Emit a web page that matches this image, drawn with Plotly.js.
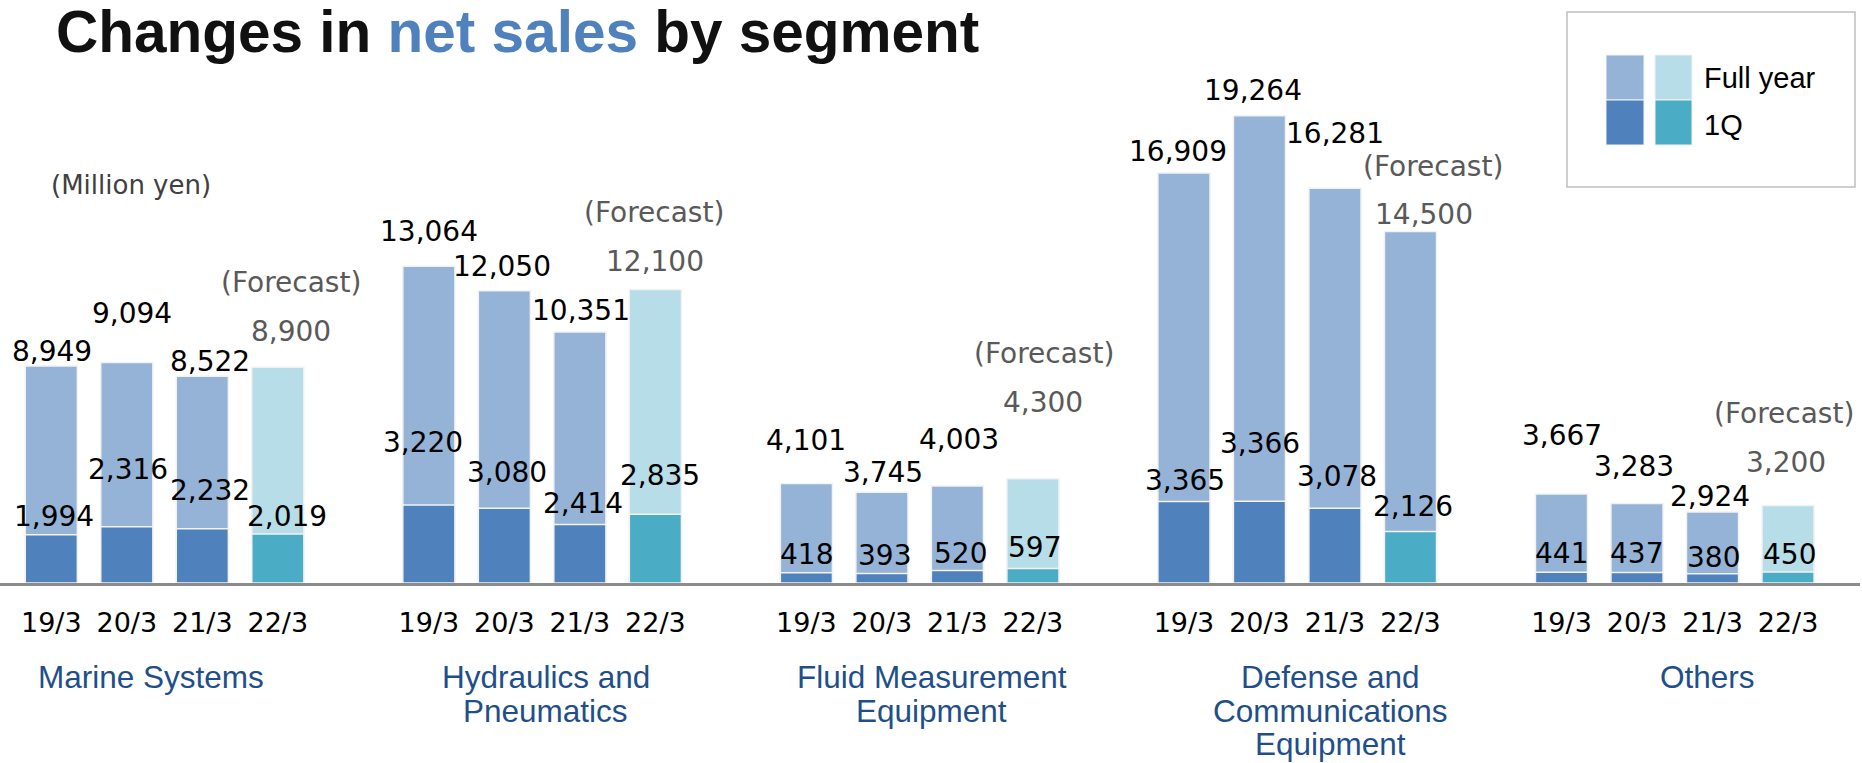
<!DOCTYPE html>
<html>
<head>
<meta charset="utf-8">
<script src="https://cdn.plot.ly/plotly-3.0.1.min.js"></script>
<style>
html,body{margin:0;padding:0;background:#ffffff;}
#chart{width:1862px;height:763px;}
</style>
</head>
<body>
<div id="chart"></div>
<script>
// ---------------- DATA ----------------
const segments = ['Marine Systems', 'Hydraulics and<br>Pneumatics', 'Fluid Measurement<br>Equipment', 'Defense and<br>Communications<br>Equipment', 'Others'];
const years = ['19/3', '20/3', '21/3', '22/3'];
const forecastYear = '22/3';

const marineFull = [8949, 9094, 8522, 8900];
const marine1Q = [1994, 2316, 2232, 2019];
const hydraulicsFull = [13064, 12050, 10351, 12100];
const hydraulics1Q = [3220, 3080, 2414, 2835];
const fluidFull = [4101, 3745, 4003, 4300];
const fluid1Q = [418, 393, 520, 597];
const defenseFull = [16909, 19264, 16281, 14500];
const defense1Q = [3365, 3366, 3078, 2126];
const othersFull = [3667, 3283, 2924, 3200];
const others1Q = [441, 437, 380, 450];

const fullYear = [marineFull, hydraulicsFull, fluidFull, defenseFull, othersFull];
const firstQuarter = [marine1Q, hydraulics1Q, fluid1Q, defense1Q, others1Q];

// ---------------- STYLE / LAYOUT TWEAKS ----------------
const C_FULL = '#95b3d7', C_1Q = '#4f81bd', C_FC_FULL = '#b7dde8', C_FC_1Q = '#4bacc6';
const fcFullLight = [true, true, true, false, true]; // defense forecast full-year bar drawn in normal blue
const NUM_FONT = 'DejaVu Sans, Verdana, sans-serif';
const SANS = 'Liberation Sans, Arial, sans-serif';

// label offsets (px) relative to bar-top anchor: dx right, up
const fullDx = [[0.7,5.3,7.5,12.8],[0.6,-2.2,1,-0.2],[-0.9,1.2,1.3,10],[-6,-6,0,14],[0.5,-3,-2.5,-2]];
const fullUp = [[14,48.5,15.3,35.2],[35.2,23.8,21,27.6],[42.6,19.2,46.9,76.7],[21,24.9,54.2,16.4],[58.6,36.4,15.1,43.4]];
const q1Dx = [[2.3,0.9,7.5,8.7],[-5.5,2.7,2.8,4.5],[0.2,3,3.5,2],[1,0.6,2,3],[-0.5,-0.5,0.5,1]];
const q1Up = [[18.6,57.8,37.9,18],[62.9,36.3,20.5,38.3],[17.9,17.5,16.4,21.5],[21.4,57.4,31.8,24.7],[19.3,19.4,15.8,17.1]];
const noteDx = [12.8,-0.9,11,23,-4];
const noteUp = [84.2,76.6,125.7,64.8,91.9];
const segNameDx = [-13.6, 3.8, 12.2, 33.2, 32.6];
const segLineY = [677, 711, 744];

// geometry
const W = 1862, H = 763;
const M = {l:0, r:2, t:100, b:180};
const PW = W - M.l - M.r, PH = H - M.t - M.b;
const PX_PER_SLOT = 75.51, FIRST_X = 51.3, PX_PER_UNIT = 0.02425;
const xRange = [-FIRST_X / PX_PER_SLOT, (PW - FIRST_X) / PX_PER_SLOT];
const yRange = [0, PH / PX_PER_UNIT];
const px2paperX = px => (px - M.l) / PW;
const px2paperY = py => (M.t + PH - py) / PH;

const pos = (g, j) => g * (years.length + 1) + j;

// ---------------- TRACES ----------------
const xs = [], fullY = [], q1Y = [], fullCol = [], q1Col = [], tickvals = [], ticktext = [];
segments.forEach((s, g) => {
  years.forEach((yr, j) => {
    const isFc = yr === forecastYear;
    xs.push(pos(g, j));
    fullY.push(fullYear[g][j]);
    q1Y.push(firstQuarter[g][j]);
    fullCol.push(isFc && fcFullLight[g] ? C_FC_FULL : C_FULL);
    q1Col.push(isFc ? C_FC_1Q : C_1Q);
    tickvals.push(pos(g, j));
    ticktext.push(yr);
  });
});

const barLine = {color: '#f2f2f2', width: 1.5};
const traces = [
  {type:'bar', name:'Full year', x: xs, y: fullY, width: 0.69, marker:{color: fullCol, line: barLine}, hoverinfo:'x+y'},
  {type:'bar', name:'1Q', x: xs, y: q1Y, width: 0.69, marker:{color: q1Col, line: barLine}, hoverinfo:'x+y'}
];

// ---------------- ANNOTATIONS ----------------
const fmt = v => v.toLocaleString('en-US');
const ann = [];
segments.forEach((s, g) => {
  years.forEach((yr, j) => {
    const isFc = yr === forecastYear;
    ann.push({x: pos(g, j), y: fullYear[g][j], xref:'x', yref:'y', text: fmt(fullYear[g][j]),
      showarrow:false, xanchor:'center', yanchor:'middle', xshift: fullDx[g][j], yshift: fullUp[g][j],
      font:{family: NUM_FONT, size: 28, color: isFc ? '#595959' : '#000000'}});
    ann.push({x: pos(g, j), y: firstQuarter[g][j], xref:'x', yref:'y', text: fmt(firstQuarter[g][j]),
      showarrow:false, xanchor:'center', yanchor:'middle', xshift: q1Dx[g][j], yshift: q1Up[g][j],
      font:{family: NUM_FONT, size: 28, color: '#000000'}});
    if (isFc) {
      ann.push({x: pos(g, j), y: fullYear[g][j], xref:'x', yref:'y', text: '(Forecast)',
        showarrow:false, xanchor:'center', yanchor:'middle', xshift: noteDx[g], yshift: noteUp[g],
        font:{family: NUM_FONT, size: 28, color: '#595959'}});
    }
  });
  const lines = s.split('<br>');
  lines.forEach((ln, k) => {
    ann.push({x: pos(g, (years.length - 1) / 2), y: px2paperY(segLineY[k]), xref:'x', yref:'paper',
      text: ln, showarrow:false, xanchor:'center', yanchor:'middle', xshift: segNameDx[g],
      font:{family: SANS, size: 31.5, color: '#1f4f8b'}});
  });
});

// unit label
ann.push({x: px2paperX(131), y: px2paperY(185.5), xref:'paper', yref:'paper', text:'(Million yen)',
  showarrow:false, xanchor:'center', yanchor:'middle', font:{family: NUM_FONT, size: 26, color:'#404040'}});

// legend (custom box)
const shapes = [];
const rect = (x0, y0, x1, y1, fill, line) => ({type:'rect', xref:'paper', yref:'paper',
  x0: px2paperX(x0), x1: px2paperX(x1), y0: px2paperY(y1), y1: px2paperY(y0),
  fillcolor: fill, line: line, layer:'above'});
shapes.push(rect(1567, 12, 1855, 187, 'rgba(0,0,0,0)', {color:'#bfbfbf', width:1.5}));
shapes.push(rect(1606, 55, 1644, 100, C_FULL, {color:'#f2f2f2', width:1}));
shapes.push(rect(1606, 100, 1644, 145, C_1Q, {color:'#f2f2f2', width:1}));
shapes.push(rect(1655, 55, 1692, 100, C_FC_FULL, {color:'#f2f2f2', width:1}));
shapes.push(rect(1655, 100, 1692, 145, C_FC_1Q, {color:'#f2f2f2', width:1}));
ann.push({x: px2paperX(1702), y: px2paperY(78), xref:'paper', yref:'paper', text: traces[0].name,
  showarrow:false, xanchor:'left', yanchor:'middle', font:{family: SANS, size: 29, color:'#000000'}});
ann.push({x: px2paperX(1702), y: px2paperY(125), xref:'paper', yref:'paper', text: traces[1].name,
  showarrow:false, xanchor:'left', yanchor:'middle', font:{family: SANS, size: 29, color:'#000000'}});

const layout = {
  width: W, height: H,
  margin: M,
  paper_bgcolor:'#ffffff', plot_bgcolor:'#ffffff',
  barmode:'overlay',
  showlegend:false,
  title:{
    text:'Changes in <span style="color:#4f81bd">net sales</span> by segment',
    font:{family: SANS, size: 58.5, color:'#111111', weight: 'bold'},
    x: 56 / W, xref:'container', xanchor:'left',
    y: 1 - 31.5 / H, yref:'container', yanchor:'middle'
  },
  xaxis:{
    range: xRange, tickmode:'array', tickvals: tickvals, ticktext: ticktext,
    showgrid:false, zeroline:false, showline:true, linecolor:'#8c8c8c', linewidth:3,
    ticks:'outside', ticklen:14, tickcolor:'rgba(0,0,0,0)',
    tickfont:{family: NUM_FONT, size: 27, color:'#000000'}, fixedrange:true
  },
  yaxis:{range: yRange, visible:false, fixedrange:true},
  annotations: ann,
  shapes: shapes
};

Plotly.newPlot('chart', traces, layout, {displayModeBar:false, staticPlot:true});
</script>
</body>
</html>
